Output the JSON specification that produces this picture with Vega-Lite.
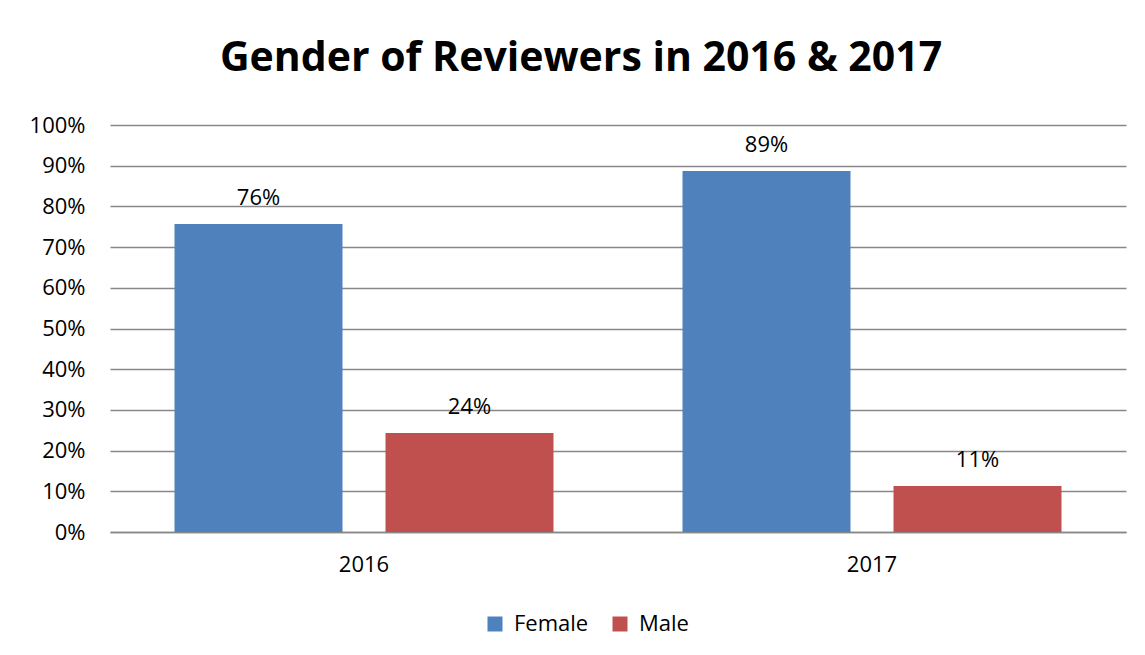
{
  "$schema": "https://vega.github.io/schema/vega-lite/v6.json",
  "autosize": {"type": "none"},
  "width": 1016,
  "height": 407,
  "padding": {"left": 110, "top": 125, "right": 19, "bottom": 123},
  "background": "white",
  "title": {
    "text": "Gender of Reviewers in 2016 & 2017",
    "font": "Open Sans",
    "fontSize": 41,
    "fontWeight": "bold",
    "color": "#000000",
    "anchor": "middle",
    "frame": "group",
    "dx": -37,
    "offset": 34
  },
  "config": {
    "view": {"stroke": null},
    "font": "Open Sans"
  },
  "data": {
    "values": [
      {"year": "2016", "gender": "Female", "share": 0.757, "label": "76%"},
      {"year": "2016", "gender": "Male", "share": 0.243, "label": "24%"},
      {"year": "2017", "gender": "Female", "share": 0.887, "label": "89%"},
      {"year": "2017", "gender": "Male", "share": 0.113, "label": "11%"}
    ]
  },
  "encoding": {
    "x": {
      "field": "year",
      "type": "nominal",
      "scale": {"paddingInner": 0, "paddingOuter": 0},
      "axis": {
        "title": null,
        "labelAngle": 0,
        "labelFont": "Open Sans",
        "labelFontSize": 22,
        "labelColor": "#000000",
        "labelPadding": 22,
        "ticks": false,
        "domain": true,
        "domainColor": "#888888",
        "domainWidth": 1.5,
        "grid": false
      }
    },
    "xOffset": {
      "field": "gender",
      "type": "nominal",
      "scale": {"paddingInner": 0.2038, "paddingOuter": 0.3057}
    },
    "y": {
      "field": "share",
      "type": "quantitative",
      "scale": {"domain": [0, 1], "nice": false},
      "axis": {
        "title": null,
        "format": ".0%",
        "values": [0, 0.1, 0.2, 0.3, 0.4, 0.5, 0.6, 0.7, 0.8, 0.9, 1],
        "labelFont": "Open Sans",
        "labelFontSize": 22,
        "labelColor": "#000000",
        "labelPadding": 25,
        "ticks": false,
        "domain": false,
        "grid": true,
        "gridColor": "#888888",
        "gridWidth": 1.5
      }
    }
  },
  "layer": [
    {
      "mark": {"type": "bar"},
      "encoding": {
        "color": {
          "field": "gender",
          "type": "nominal",
          "scale": {"domain": ["Female", "Male"], "range": ["#4F81BD", "#C0504D"]},
          "legend": {
            "title": null,
            "orient": "none",
            "direction": "horizontal",
            "legendX": 374,
            "legendY": 488,
            "padding": 0,
            "symbolType": "square",
            "symbolSize": 225,
            "symbolStrokeWidth": 0,
            "symbolOpacity": 1,
            "labelFont": "Open Sans",
            "labelFontSize": 22,
            "labelColor": "#000000",
            "labelOffset": 8,
            "columnPadding": 20
          }
        }
      }
    },
    {
      "mark": {"type": "text", "baseline": "alphabetic", "dy": -19, "font": "Open Sans", "fontSize": 22, "color": "#000000"},
      "encoding": {
        "text": {"field": "label", "type": "nominal"}
      }
    }
  ]
}
